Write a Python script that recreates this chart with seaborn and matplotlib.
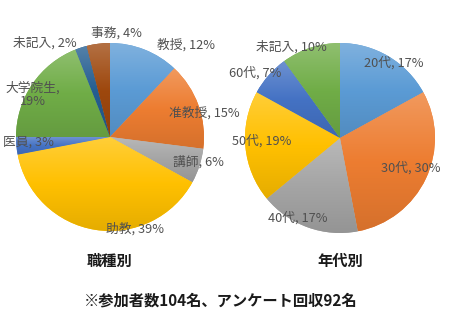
import matplotlib
matplotlib.use("Agg")
import matplotlib.pyplot as plt
import matplotlib.colors as mcolors
import numpy as np
import seaborn as sns

sns.set_theme(style="white")
plt.rcParams["font.family"] = ["Noto Sans CJK JP", "DejaVu Sans"]

# 職種別
job_labels = ["教授", "准教授", "講師", "助教", "医員", "大学院生", "未記入", "事務"]
job_values = [12, 15, 6, 39, 3, 19, 2, 4]
job_colors = ["#5B9BD5", "#ED7D31", "#A5A5A5", "#FFC000", "#4472C4",
              "#70AD47", "#255E91", "#9E480E"]

# 年代別
age_labels = ["20代", "30代", "40代", "50代", "60代", "未記入"]
age_values = [17, 30, 17, 19, 7, 10]
age_colors = ["#5B9BD5", "#ED7D31", "#A5A5A5", "#FFC000", "#4472C4", "#70AD47"]

# label anchor points (pie units, radius = 1)
job_label_pos = [(0.81, 0.98), (1.0, 0.26), (0.94, -0.27), (0.27, -0.98),
                 (-0.87, -0.05), (-0.82, 0.45), (-0.69, 1.0), (0.07, 1.11)]
age_label_pos = [(0.57, 0.79), (0.74, -0.32), (-0.44, -0.84), (-0.82, -0.03),
                 (-0.89, 0.69), (-0.51, 0.96)]

W, H = 450, 333
fig = plt.figure(figsize=(W / 100, H / 100), dpi=100)


def gradient_fill(ax, wedge, color):
    """Soft top-to-bottom shading inside a wedge."""
    base = np.array(mcolors.to_rgb(color))
    light = base + (1 - base) * 0.22
    dark = base * 0.9
    t = np.linspace(0, 1, 64)[:, None]
    top_half = light + (base - light) * np.clip(t * 2, 0, 1)
    bot_half = base + (dark - base) * np.clip(t * 2 - 1, 0, 1)
    rgb = np.where(t < 0.5, top_half, bot_half)
    img = np.repeat(rgb[:, None, :], 2, axis=1)
    bb = wedge.get_path().get_extents(wedge.get_patch_transform())
    im = ax.imshow(img, extent=[bb.x0, bb.x1, bb.y0, bb.y1], origin="upper",
                   aspect="auto", interpolation="bilinear", zorder=1.5)
    im.set_clip_path(wedge)


def draw_pie(cx, cy, r, labels, values, colors, positions, title, wrap=()):
    ax = fig.add_axes([(cx - r) / W, 1 - (cy + r) / H, 2 * r / W, 2 * r / H])
    wedges, _ = ax.pie(values, colors=colors, startangle=90, counterclock=False,
                       radius=1, wedgeprops=dict(linewidth=0))
    for w, c in zip(wedges, colors):
        gradient_fill(ax, w, c)
    ax.set_xlim(-1, 1)
    ax.set_ylim(-1, 1)
    ax.set_aspect("equal")
    ax.axis("off")
    for lab, val, (x, y) in zip(labels, values, positions):
        sep = ",\n" if lab in wrap else ", "
        ax.text(x, y, f"{lab}{sep}{val}%", ha="center", va="center",
                fontsize=9.2, color="#505050", linespacing=1.1, zorder=5)
    fig.text(cx / W, 1 - 261 / H, title, ha="center", va="center",
             fontsize=11, fontweight="bold", color="#1a1a1a")


draw_pie(110, 137, 94, job_labels, job_values, job_colors, job_label_pos,
         "職種別", wrap=("大学院生",))
draw_pie(340, 138, 95, age_labels, age_values, age_colors, age_label_pos,
         "年代別")

fig.text(221 / W, 1 - 301 / H, "※参加者数104名、アンケート回収92名",
         ha="center", va="center", fontsize=11, fontweight="bold",
         color="#1a1a1a")

fig.savefig("out.png", dpi=100, facecolor="white")
